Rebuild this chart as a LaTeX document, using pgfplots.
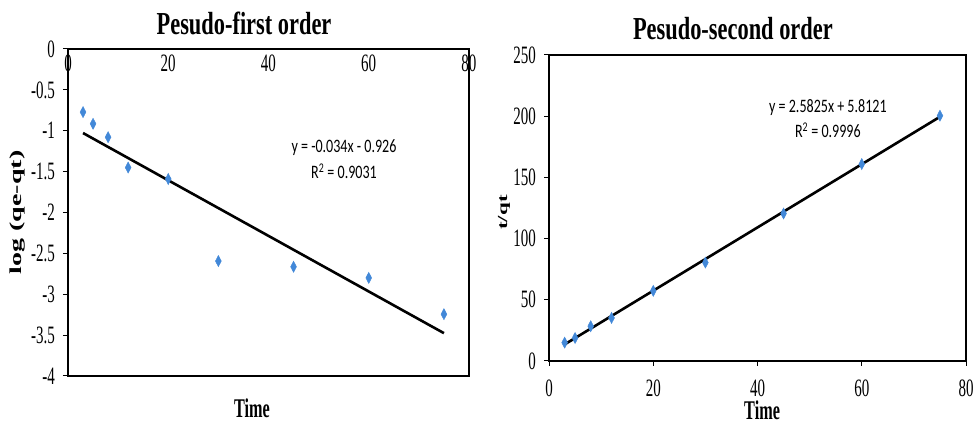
\documentclass[border=0pt]{standalone}
\usepackage{pgfplots}
\pgfplotsset{compat=1.18}
\usepackage{fontspec}
\setmainfont{Liberation Serif}[FakeStretch=0.6]
\newfontfamily\titlefont{Liberation Serif}[FakeStretch=0.7]
\newfontfamily\eqfont{Carlito}[FakeStretch=0.74]
\newfontfamily\plainserif{Liberation Serif}

\definecolor{ptblue}{RGB}{66,136,216}

\pgfplotsset{
  kinetics/.style={
    scale only axis,
    axis line style={black, line width=1.3pt},
    tick style={black, line width=1pt},
    major tick length=5pt,
    tick align=outside,
    xmin=0, xmax=80,
    xtick={0,20,40,60,80},
    xticklabels={0,20,40,60,80},
    ytick pos=left,
    tick label style={font=\fontsize{25}{25}\selectfont},
    yticklabel style={anchor=east, inner sep=0pt, xshift=-8pt},
    title style={font=\titlefont\bfseries\fontsize{32}{32}\selectfont, anchor=base, yshift=-6pt},
    xlabel style={font=\bfseries\fontsize{27}{27}\selectfont, anchor=base},
    ylabel style={font=\plainserif\bfseries, anchor=center, rotate=0},
  },
  datapts/.style={only marks, mark=diamond*, mark size=5.6pt,
    mark options={fill=ptblue, draw=ptblue, xscale=0.7}},
  fitline/.style={black, line width=2.6pt, no marks},
}

\begin{document}
\begin{tikzpicture}
\useasboundingbox (0pt,0pt) rectangle (973pt,422pt);

% Pseudo-first-order fit: log(qe - qt) against time
\begin{axis}[kinetics,
  at={(68pt,46pt)}, anchor=south west,
  width=401pt, height=327pt,
  ymin=-4, ymax=0,
  ytick={-4,-3.5,-3,-2.5,-2,-1.5,-1,-0.5,0},
  yticklabels={-4,-3.5,-3,-2.5,-2,-1.5,-1,-0.5,0},
  xtick pos=upper,
  xticklabel pos=upper,
  x tick style={draw=none},
  xticklabel shift=-28pt,
  xticklabel style={inner sep=0pt},
  title={Pesudo-first order},
  title style={at={(axis description cs:0.439,1.043)}},
  xlabel={Time},
  xlabel style={at={(axis description cs:0.459,-0.128)}},
  ylabel={\scalebox{1}[0.6]{\fontsize{28}{28}\selectfont log (qe-qt)}},
  ylabel style={at={(axis description cs:-0.125,0.5)}, rotate=0},
]
\addplot[datapts] coordinates {
  (3,-0.772) (5,-0.915) (8,-1.079) (12,-1.450) (20,-1.590)
  (30,-2.594) (45,-2.664) (60,-2.800) (75,-3.244)
};
\addplot[fitline] coordinates {(3,-1.028) (75,-3.476)};
\node[anchor=base, font=\eqfont\fontsize{19}{19}\selectfont] at (axis cs:55.06,-1.26) {y = -0.034x - 0.926};
\node[anchor=base, font=\eqfont\fontsize{19}{19}\selectfont] at (axis cs:55.06,-1.59) {R\textsuperscript{2} = 0.9031};
\end{axis}

% Pseudo-second-order fit: t/qt against time
\begin{axis}[kinetics,
  at={(549pt,61pt)}, anchor=south west,
  width=417pt, height=306pt,
  ymin=0, ymax=250,
  ytick={0,50,100,150,200,250},
  yticklabels={0,50,100,150,200,250},
  xtick pos=lower,
  xticklabel style={anchor=north, inner sep=0pt, yshift=-14pt},
  title={Pesudo-second order},
  title style={at={(axis description cs:0.441,1.052)}},
  xlabel={Time},
  xlabel style={at={(axis description cs:0.511,-0.19)}},
  ylabel={\scalebox{1}[0.6]{\fontsize{23}{23}\selectfont t/qt}},
  ylabel style={at={(axis description cs:-0.108,0.485)}, rotate=0},
]
\addplot[datapts] coordinates {
  (3,15.0) (5,18.8) (8,28.4) (12,35.2) (20,57.3)
  (30,80.4) (45,120.5) (60,160.9) (75,200.4)
};
\addplot[fitline] coordinates {(3,13.56) (75,199.50)};
\node[anchor=base, font=\eqfont\fontsize{19}{19}\selectfont] at (axis cs:53.5,203.4) {y = 2.5825x + 5.8121};
\node[anchor=base, font=\eqfont\fontsize{19}{19}\selectfont] at (axis cs:53.5,182.2) {R\textsuperscript{2} = 0.9996};
\end{axis}
\end{tikzpicture}
\end{document}
